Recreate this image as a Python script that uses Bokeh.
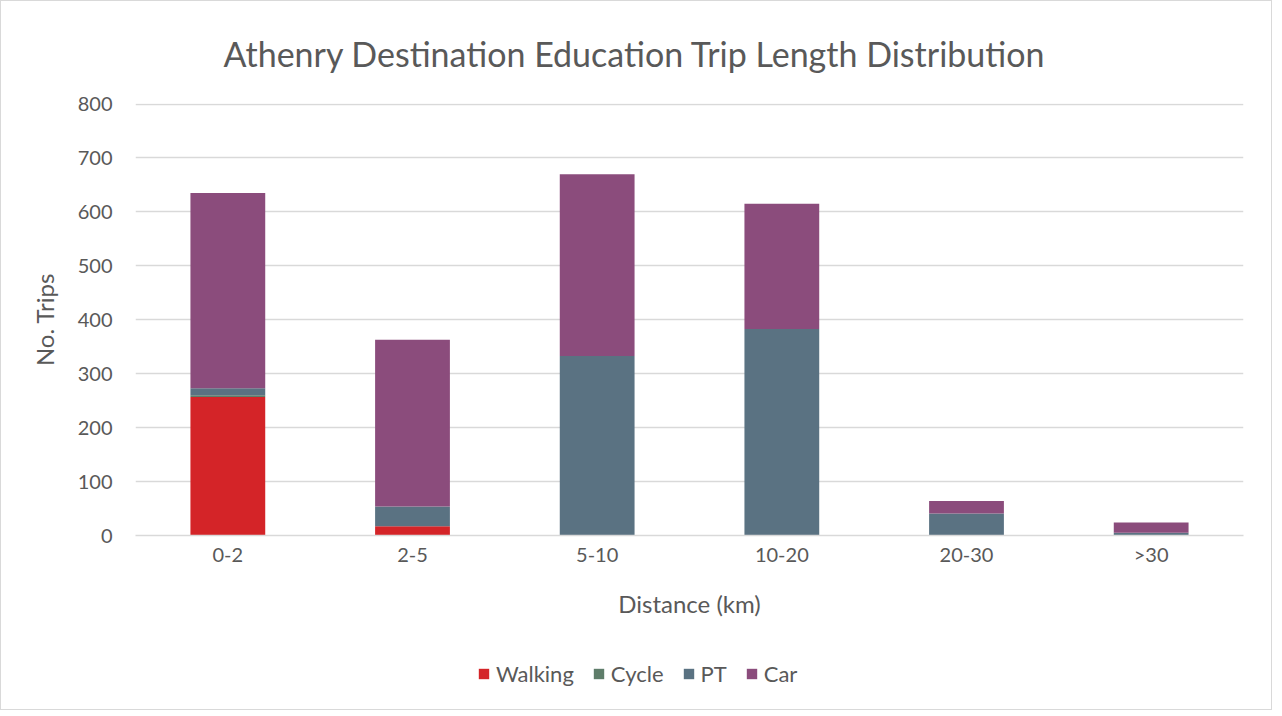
from bokeh.plotting import figure
from bokeh.layouts import column
from bokeh.models import Legend, LegendItem, Title, FactorRange, Range1d
from bokeh.embed import file_html
from bokeh.resources import INLINE

categories = ["0-2", "2-5", "5-10", "10-20", "20-30", ">30"]
modes = ["Walking", "Cycle", "PT", "Car"]
walking = [257, 17, 0, 0, 0, 0]
cycle = [3, 0, 0, 0, 0, 0]
pt = [13, 37, 333, 383, 41, 5]
car = [362, 309, 337, 232, 23, 19]
colors = ["#d42428", "#5e7d6a", "#5a7282", "#8b4c7c"]
y_ticks = [0, 100, 200, 300, 400, 500, 600, 700, 800]

data = dict(x=categories, Walking=walking, Cycle=cycle, PT=pt, Car=car)

FONT = "Lato"
TXT = "#595959"

# ---- main chart ----
p = figure(x_range=FactorRange(*categories), y_range=Range1d(0, 801),
           width=1270, height=632, output_backend="svg", toolbar_location=None,
           min_border_left=134, min_border_right=28, min_border_top=102, min_border_bottom=98)
p.outline_line_color = None
p.background_fill_color = "white"

p.vbar_stack(modes, x="x", width=0.405, source=data, color=colors, line_color=None)

p.x_range.range_padding = 0
p.yaxis.ticker = y_ticks
p.ygrid.ticker = y_ticks
p.ygrid.grid_line_color = "#d9d9d9"
p.ygrid.grid_line_width = 1.5
p.xgrid.grid_line_color = None

for ax in (p.xaxis[0], p.yaxis[0]):
    ax.major_tick_line_color = None
    ax.minor_tick_line_color = None
    ax.major_label_text_font = FONT
    ax.major_label_text_font_size = "20px"
    ax.major_label_text_color = TXT
    ax.axis_label_text_font = FONT
    ax.axis_label_text_font_size = "24px"
    ax.axis_label_text_color = TXT
    ax.axis_label_text_font_style = "normal"

p.yaxis.axis_line_color = None
p.yaxis.major_label_standoff = 17
p.yaxis.axis_label = "No. Trips"
p.yaxis.axis_label_standoff = 16
p.xaxis.axis_line_color = "#d9d9d9"
p.xaxis.axis_line_width = 1.5
p.xaxis.major_label_standoff = 0
p.xaxis.axis_label = "Distance (km)"
p.xaxis.axis_label_standoff = 20

title = Title(text="Athenry Destination Education Trip Length Distribution",
              text_font=FONT, text_font_size="34px", text_color=TXT,
              text_font_style="normal", align="left", offset=88,
              vertical_align="top", standoff=56)
p.add_layout(title, "above")

# ---- legend strip (its swatch renderers sit outside the visible y range) ----
p2 = figure(x_range=FactorRange(*categories), y_range=Range1d(5000, 6000),
            width=1270, height=76, output_backend="svg", toolbar_location=None,
            x_axis_location=None, y_axis_location=None,
            min_border=0, min_border_left=0, min_border_right=0,
            min_border_top=0, min_border_bottom=0)
p2.outline_line_color = None
p2.grid.visible = False
p2.background_fill_color = "white"
rs = p2.vbar_stack(modes, x="x", width=0.405, source=data, color=colors, line_color=None)

legend = Legend(items=[LegendItem(label=m, renderers=[r]) for m, r in zip(modes, rs)],
                orientation="horizontal", location=(342, 22),
                label_text_font=FONT, label_text_font_size="22px", label_text_color=TXT,
                glyph_width=13, glyph_height=13, label_standoff=6, spacing=18,
                border_line_color=None, background_fill_alpha=0, padding=4, margin=0)
p2.add_layout(legend)

layout = column(p, p2, spacing=0, styles={"border": "1px solid #d9d9d9"})

open("out.html", "w").write(file_html(layout, INLINE))
